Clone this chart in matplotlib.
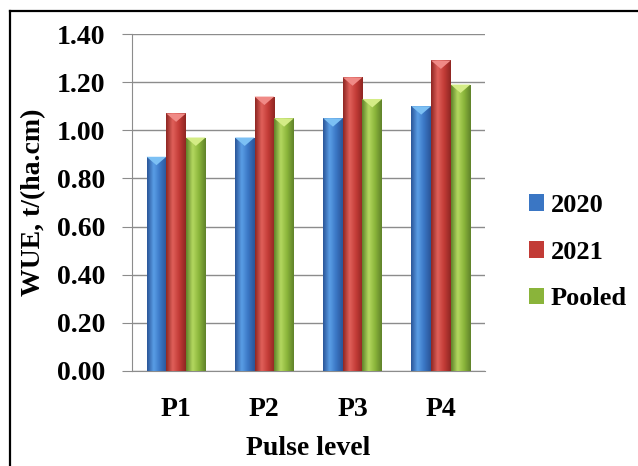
import numpy as np
import matplotlib.pyplot as plt
from matplotlib.colors import LinearSegmentedColormap
from matplotlib.patches import Polygon
from matplotlib.lines import Line2D

# ------------ Data ------------
levels = ["P1", "P2", "P3", "P4"]
wue_2020 = [0.89, 0.97, 1.05, 1.10]
wue_2021 = [1.07, 1.14, 1.22, 1.29]
wue_pooled = [0.97, 1.05, 1.13, 1.19]
series_names = ["2020", "2021", "Pooled"]

# ------------ Style ------------
base_cols = ["#3a76c4", "#c23b36", "#8ab43a"]
dark_cols = ["#2a5598", "#8e2622", "#5f822a"]
light_cols = ["#5a9ee6", "#e0605a", "#b4d860"]
cap_cols = ["#7cc0f4", "#f08a86", "#d4ec86"]
FONT = "Liberation Serif"
FS = 20

W, H = 638, 466
fig = plt.figure(figsize=(W / 100, H / 100), dpi=100)
# cropped frame: only top and left edges visible
fig.lines.append(Line2D([10 / W, 1.0], [1 - 11 / H, 1 - 11 / H], transform=fig.transFigure,
                        color="black", linewidth=1.6))
fig.lines.append(Line2D([10 / W, 10 / W], [0.0, 1 - 11 / H], transform=fig.transFigure,
                        color="black", linewidth=1.6))
ax = fig.add_axes([132 / W, 1 - 371 / H, (485 - 132) / W, (371 - 34) / H])

x = np.arange(len(levels))
w = 0.223
all_series = [wue_2020, wue_2021, wue_pooled]

for i, vals in enumerate(all_series):
    cmap = LinearSegmentedColormap.from_list(
        "g%d" % i, [dark_cols[i], light_cols[i], base_cols[i], dark_cols[i]])
    bars = ax.bar(x + (i - 1) * w, vals, w, color=base_cols[i], label=series_names[i],
                  zorder=3, linewidth=0)
    for b in bars:
        x0, y0 = b.get_x(), b.get_y()
        bw, bh = b.get_width(), b.get_height()
        grad = np.linspace(0, 1, 64).reshape(1, -1)
        im = ax.imshow(grad, cmap=cmap, aspect="auto", extent=(x0, x0 + bw, y0, y0 + bh),
                       zorder=3.5, interpolation="bicubic")
        im.set_clip_path(b)
        cap = Polygon([(x0, y0 + bh), (x0 + bw, y0 + bh), (x0 + bw / 2, y0 + bh - 0.035)],
                      closed=True, facecolor=cap_cols[i], edgecolor="none", zorder=4)
        ax.add_patch(cap)

ax.set_xlim(-0.5, len(levels) - 0.5)
ax.set_ylim(0, 1.40)
yt = np.arange(0, 1.41, 0.2)
ax.set_yticks(yt)
ax.set_yticklabels(["%.2f" % v for v in yt])
ax.set_xticks(x)
ax.set_xticklabels(levels)
ax.grid(axis="y", color="#8c8c8c", linewidth=1.0, zorder=0)
ax.set_axisbelow(True)
for s in ["top", "right"]:
    ax.spines[s].set_visible(False)
for s in ["left", "bottom"]:
    ax.spines[s].set_color("#8c8c8c")
ax.tick_params(axis="y", length=7, color="#8c8c8c", pad=12)
ax.tick_params(axis="x", length=0, pad=19)
for lab in ax.get_xticklabels() + ax.get_yticklabels():
    lab.set_fontfamily(FONT)
    lab.set_fontweight("bold")
    lab.set_fontsize(FS)

ax.set_xlabel("Pulse level", fontfamily=FONT, fontweight="bold", fontsize=FS, labelpad=10)
ax.set_ylabel("WUE, t/(ha.cm)", fontfamily=FONT, fontweight="bold", fontsize=FS, labelpad=8)

leg = ax.legend(loc="center left", bbox_to_anchor=(1.056, 0.353), frameon=False,
                prop={"family": FONT, "weight": "bold", "size": 19},
                handlelength=0.6, handleheight=0.6, handletextpad=0.25, labelspacing=0.9)

fig.savefig("out.png", dpi=100)
